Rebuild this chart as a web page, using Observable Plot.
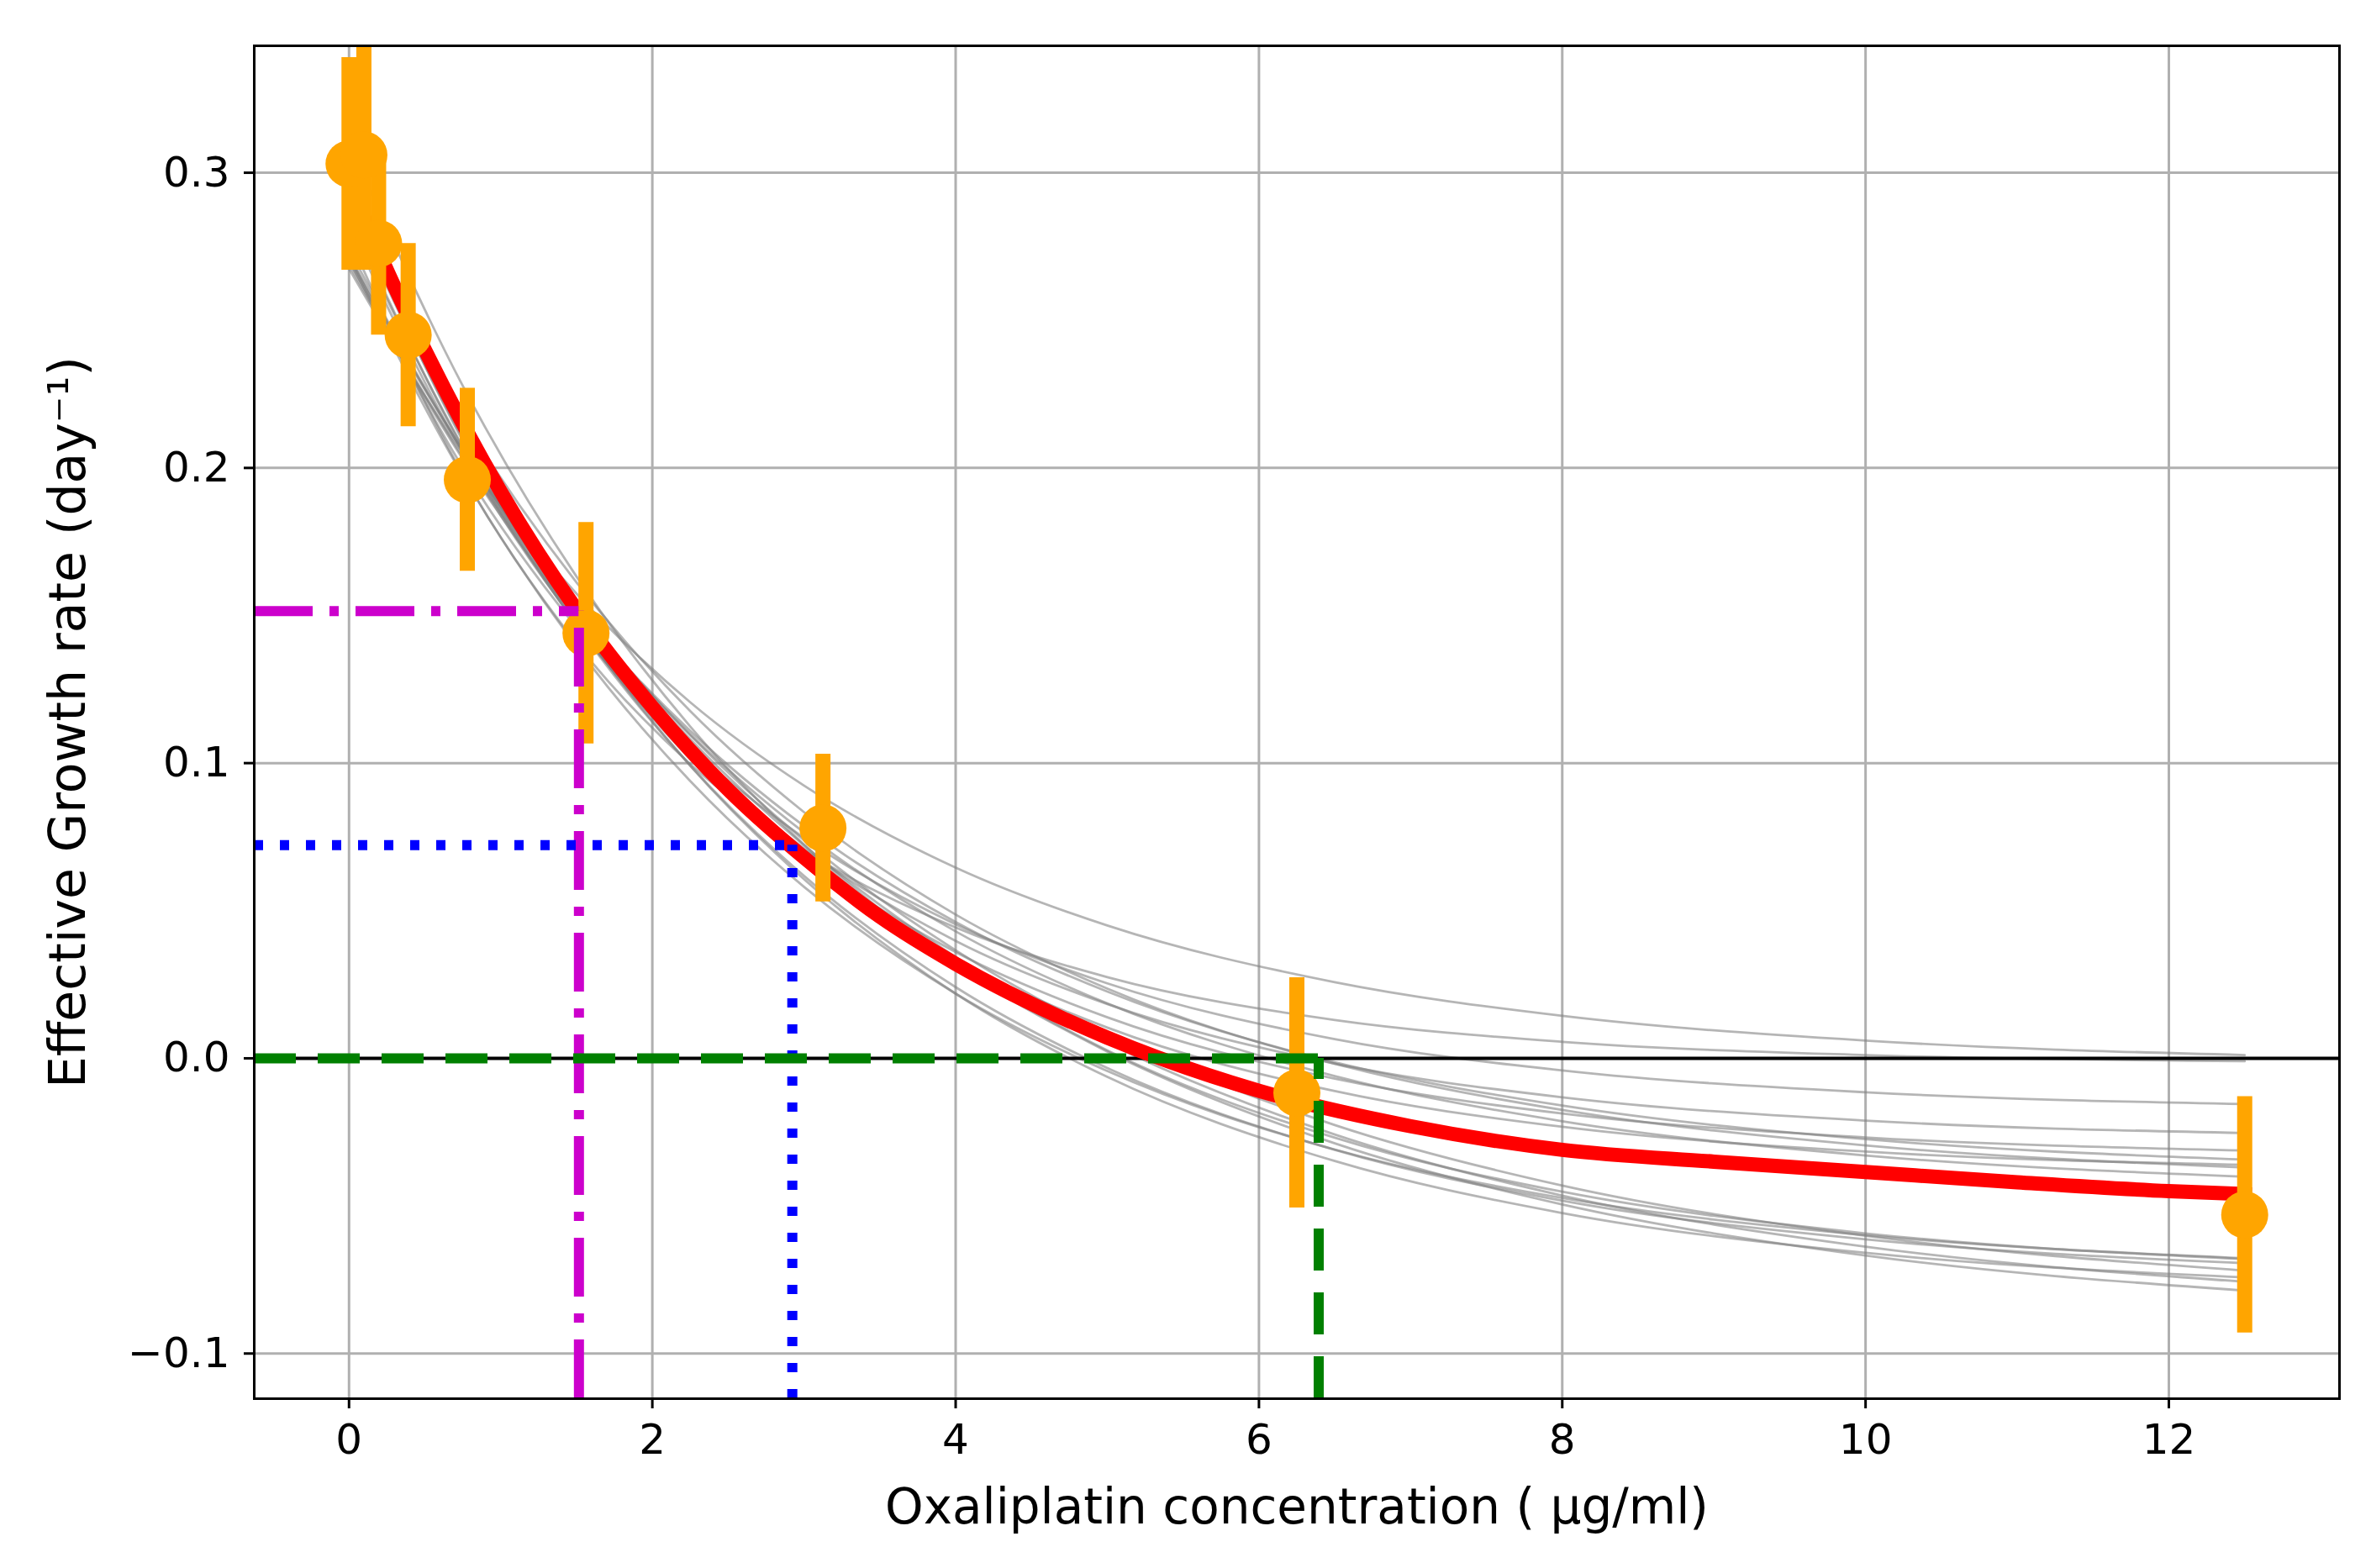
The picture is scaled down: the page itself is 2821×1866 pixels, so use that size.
<!DOCTYPE html>
<html>
<head>
<meta charset="utf-8">
<script src="https://cdn.jsdelivr.net/npm/d3@7"></script>
<script src="https://cdn.jsdelivr.net/npm/@observablehq/plot@0.6"></script>
<style>
  html, body { margin: 0; padding: 0; background: #fff; }
</style>
</head>
<body>
<div id="chart"></div>
<script>
const concentration = [0, 0.098, 0.195, 0.39, 0.78, 1.5625, 3.125, 6.25, 12.5];
const growthRate    = [0.303, 0.306, 0.276, 0.245, 0.196, 0.144, 0.078, -0.0117, -0.053];
const growthErr     = [0.036, 0.039, 0.031, 0.031, 0.031, 0.0375, 0.025, 0.039, 0.040];

// ---- best-fit curve (red) ----
const fitX = [0, 0.25, 0.5, 0.75, 1, 1.5, 2, 2.5, 3, 3.5, 4, 5, 6, 7, 8, 9, 10, 11, 12, 12.5];
const fitY = [0.297, 0.267, 0.240, 0.215, 0.192, 0.152, 0.119, 0.091, 0.068, 0.048, 0.032, 0.007,
              -0.011, -0.023, -0.031, -0.035, -0.0385, -0.042, -0.045, -0.046];

// ---- bootstrap curves (grey) ----
const grayX = [0, 0.75, 1.5, 2.25, 3, 4, 5, 6.5, 8, 10, 12.5];
const grayY = [
  [0.2675, 0.205, 0.1574, 0.1206, 0.0924, 0.0646, 0.045, 0.0258, 0.0144, 0.006, 0.0011],
  [0.278, 0.1978, 0.1406, 0.0997, 0.0706, 0.0443, 0.0275, 0.013, 0.0056, 0.0011, -0.001],
  [0.272, 0.2001, 0.146, 0.1053, 0.0747, 0.0454, 0.0254, 0.0065, -0.0041, -0.0115, -0.0155],
  [0.282, 0.2051, 0.1473, 0.1038, 0.0711, 0.0398, 0.0184, -0.0018, -0.0132, -0.0211, -0.0253],
  [0.286, 0.2066, 0.147, 0.1021, 0.0683, 0.036, 0.0139, -0.0069, -0.0187, -0.0268, -0.0312],
  [0.270, 0.2038, 0.1518, 0.1109, 0.0787, 0.0462, 0.0226, -0.0013, -0.016, -0.0274, -0.0343],
  [0.287, 0.2166, 0.1612, 0.1176, 0.0834, 0.0487, 0.0236, -0.0018, -0.0175, -0.0295, -0.037],
  [0.274, 0.2057, 0.152, 0.1098, 0.0765, 0.043, 0.0186, -0.006, -0.0213, -0.0329, -0.0401],
  [0.291, 0.2092, 0.1476, 0.1013, 0.0665, 0.0332, 0.0104, -0.0111, -0.0232, -0.0316, -0.0361],
  [0.271, 0.1974, 0.1395, 0.0939, 0.0581, 0.0219, -0.0043, -0.0309, -0.0473, -0.0599, -0.0677],
  [0.284, 0.2072, 0.1468, 0.0992, 0.0618, 0.0241, -0.0033, -0.031, -0.0482, -0.0613, -0.0694],
  [0.271, 0.2059, 0.1528, 0.1094, 0.0739, 0.0366, 0.008, -0.0226, -0.0431, -0.0601, -0.0719],
  [0.289, 0.210, 0.148, 0.0991, 0.0607, 0.0219, -0.0063, -0.0348, -0.0524, -0.0659, -0.0742],
  [0.272, 0.206, 0.1521, 0.1081, 0.0722, 0.0343, 0.0053, -0.0258, -0.0465, -0.0638, -0.0757],
  [0.269, 0.203, 0.1491, 0.1051, 0.0692, 0.0313, 0.0023, -0.0288, -0.0495, -0.0668, -0.0787],
  [0.310, 0.2278, 0.1632, 0.1124, 0.0724, 0.032, 0.0027, -0.0269, -0.0452, -0.0593, -0.068]
];

// ---- reference levels: magenta dash-dot, blue dotted, zero growth (green dashed) ----
const refX = [1.516, 2.923, 6.394];
const refY = [0.1515, 0.0722, 0];

// ---- axes ----
const xTicks = [0, 2, 4, 6, 8, 10, 12];
const yTicks = [-0.1, 0, 0.1, 0.2, 0.3];
const xDomain = [-0.625, 13.125];
const yDomain = [-0.1153, 0.343];
const xLabel = "Oxaliplatin concentration ( μg/ml)";
const yLabel = "Effective Growth rate (day⁻¹)";

// ---- tables built from the arrays ----
const points = concentration.map((x, i) => ({x, y: growthRate[i], lo: growthRate[i] - growthErr[i], hi: growthRate[i] + growthErr[i]}));
const fit = fitX.map((x, i) => ({x, y: fitY[i]}));
const grayRows = grayY.flatMap((ys, run) => ys.map((y, j) => ({run, x: grayX[j], y})));
const refH = i => [{x1: xDomain[0], x2: refX[i], y: refY[i]}];   // horizontal part, from left edge
const refV = i => [{x: refX[i], y1: yDomain[0], y2: refY[i]}];   // vertical part, from bottom edge

const refStyle = [
  {stroke: "#cc00cc", strokeWidth: 12, strokeDasharray: "70,20,11,20", strokeLinecap: "butt"},
  {stroke: "#0000ff", strokeWidth: 12, strokeDasharray: "11,20", strokeLinecap: "butt"},
  {stroke: "#008000", strokeWidth: 12, strokeDasharray: "50,26", strokeLinecap: "butt"}
];
const refMarks = [0, 1, 2].flatMap(i => [
  Plot.ruleY(refH(i), {x1: "x1", x2: "x2", y: "y", ...refStyle[i]}),
  Plot.ruleX(refV(i), {x: "x", y1: "y1", y2: "y2", ...refStyle[i]})
]);

const chart = Plot.plot({
  width: 2821,
  height: 1866,
  marginLeft: 302,
  marginRight: 38,
  marginTop: 54,
  marginBottom: 202,
  x: {domain: xDomain},
  y: {domain: yDomain},
  style: {fontFamily: "DejaVu Sans", fontSize: "50px", background: "white", color: "black"},
  marks: [
    Plot.gridX(xTicks, {stroke: "#b0b0b0", strokeOpacity: 1, strokeWidth: 3}),
    Plot.gridY(yTicks, {stroke: "#b0b0b0", strokeOpacity: 1, strokeWidth: 3}),
    Plot.line(grayRows, {x: "x", y: "y", z: "run", stroke: "gray", strokeOpacity: 0.58, strokeWidth: 2.8, curve: "monotone-x"}),
    Plot.ruleY([0], {stroke: "black", strokeWidth: 4}),
    Plot.line(fit, {x: "x", y: "y", stroke: "#ff0000", strokeWidth: 17, curve: "monotone-x", strokeLinecap: "square"}),
    Plot.ruleX(points, {x: "x", y1: "lo", y2: "hi", stroke: "#ffa500", strokeWidth: 18, clip: true}),
    Plot.dot(points, {x: "x", y: "y", r: 28, fill: "#ffa500", stroke: null}),
    ...refMarks,
    Plot.frame({stroke: "black", strokeWidth: 3}),
    Plot.axisX({ticks: xTicks, tickFormat: d3.format("d"), tickSize: 12, tickPadding: 18, strokeWidth: 3, fontSize: 50, label: null}),
    Plot.axisY({ticks: yTicks, tickFormat: d3.format(".1f"), tickSize: 12, tickPadding: 17, strokeWidth: 3, fontSize: 50, label: null}),
    Plot.text([yLabel], {text: d => d, frameAnchor: "left", dx: -221, rotate: -90, fontSize: 60, textAnchor: "middle", lineAnchor: "middle", fill: "black"}),
    Plot.text([xLabel], {text: d => d, frameAnchor: "bottom", dy: 130, fontSize: 58, textAnchor: "middle", lineAnchor: "middle", fill: "black"})
  ]
});
document.getElementById("chart").appendChild(chart);
</script>
</body>
</html>
